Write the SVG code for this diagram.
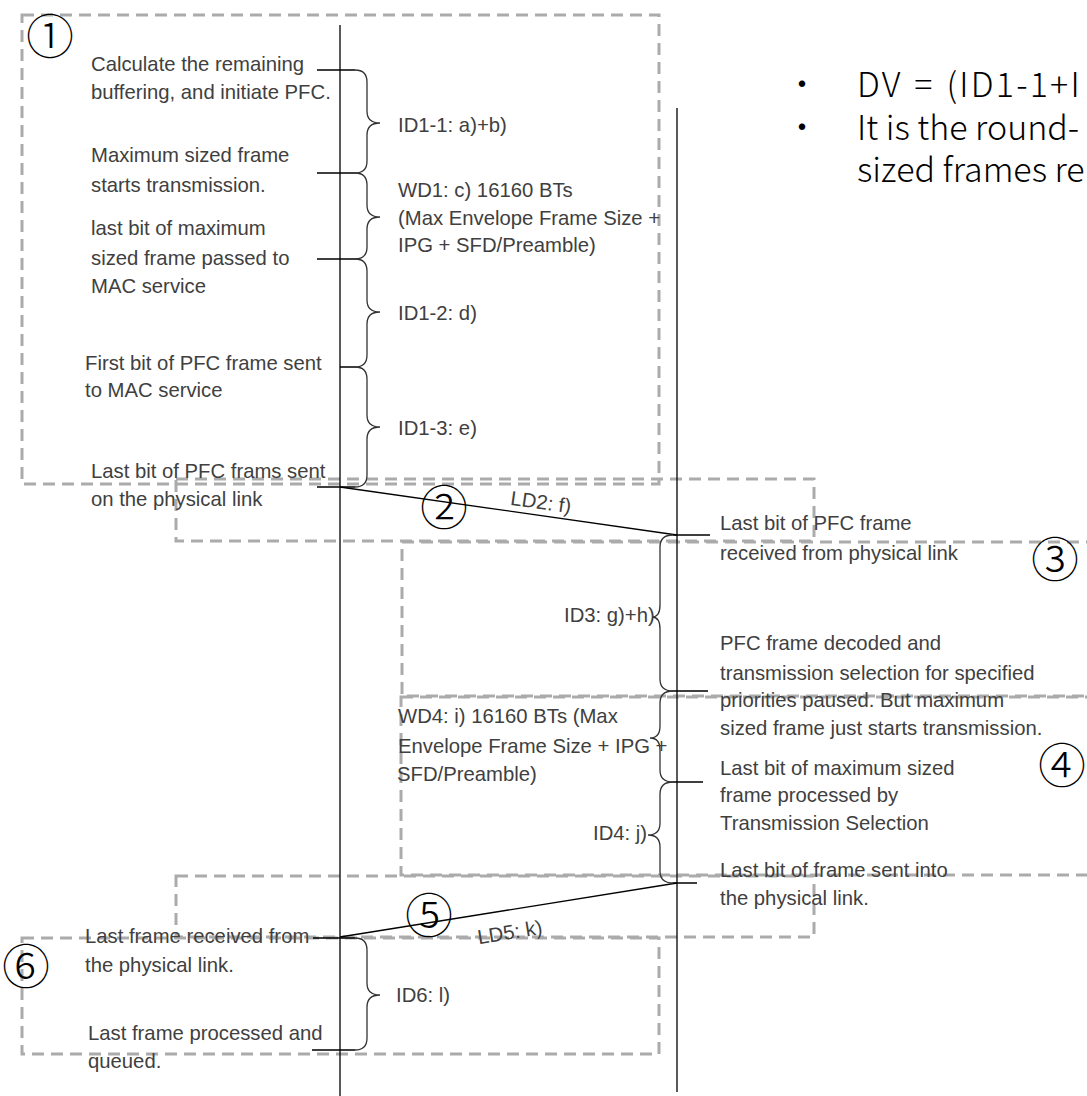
<svg xmlns="http://www.w3.org/2000/svg" width="1087" height="1096" viewBox="0 0 1087 1096">
<style>
.box{fill:none;stroke:#ababab;stroke-width:3;stroke-dasharray:12 7}
.t{font-family:"Liberation Sans",Arial,sans-serif;font-size:20.3px;fill:#404040}
.ln{stroke:#000;stroke-width:1.3;fill:none}
.br{stroke:#333;stroke-width:1.3;fill:none}
.num{font-family:"Noto Sans CJK JP","Noto Sans CJK SC",sans-serif;font-size:48px;font-weight:300;fill:#000}
.big{font-family:"Noto Sans CJK SC","Noto Sans",sans-serif;font-size:34px;font-weight:300;fill:#000}
</style>
<rect width="1087" height="1096" fill="#fff"/>
<g id="boxes">
<rect id="box1" class="box" x="22" y="15" width="637" height="469"/>
<rect id="box2" class="box" x="176" y="479" width="638" height="62"/>
<rect id="box3" class="box" x="402" y="542" width="720" height="154"/>
<rect id="box4" class="box" x="401" y="697" width="720" height="178"/>
<rect id="box5" class="box" x="176" y="876" width="638" height="61"/>
<rect id="box6" class="box" x="22" y="938" width="637" height="116"/>
</g>
<g id="connectors">
<line class="ln" x1="340" y1="25" x2="340" y2="1096"/>
<line class="ln" x1="677" y1="108" x2="677" y2="1092"/>
<path class="ln" d="M317 70H355M317 173H355M317 259H355M340 367H355M317 487H355M313 938H355M312 1050H355"/>
<path class="ln" d="M673 535H710M673 691H708M673 782H703M673 883H697"/>
<line class="ln" x1="340" y1="487" x2="677" y2="535"/>
<line class="ln" x1="677" y1="883" x2="340" y2="937"/>
<path class="br" d="M355 70Q367 70 367 82V111Q367 123 380 123Q367 123 367 135V161Q367 173 355 173"/>
<path class="br" d="M355 173Q367 173 367 185V205Q367 217 380 217Q367 217 367 229V247Q367 259 355 259"/>
<path class="br" d="M355 259Q367 259 367 271V300Q367 312 380 312Q367 312 367 324V355Q367 367 355 367"/>
<path class="br" d="M355 367Q367 367 367 379V415Q367 427 380 427Q367 427 367 439V475Q367 487 355 487"/>
<path class="br" d="M355 938Q367 938 367 950V983Q367 995 380 995Q367 995 367 1007V1038Q367 1050 355 1050"/>
<path class="br" d="M673 535Q660 535 660 547V605Q660 617 652 617Q660 617 660 629V679Q660 691 673 691"/>
<path class="br" d="M673 691Q660 691 660 703V726Q660 738 650 738Q660 738 660 750V770Q660 782 673 782"/>
<path class="br" d="M673 782Q660 782 660 794V823Q660 835 648 835Q660 835 660 847V871Q660 883 673 883"/>
</g>
<g id="n1">
<text class="num" x="50" y="33" text-anchor="middle" dominant-baseline="central">①</text>
<text class="t" x="91" y="71">Calculate the remaining</text>
<text class="t" x="91" y="99">buffering, and initiate PFC.</text>
<text class="t" x="91" y="162">Maximum sized frame</text>
<text class="t" x="91" y="192">starts transmission.</text>
<text class="t" x="91" y="235">last bit of maximum</text>
<text class="t" x="91" y="265">sized frame passed to</text>
<text class="t" x="91" y="293">MAC service</text>
<text class="t" x="85" y="370">First bit of PFC frame sent</text>
<text class="t" x="85" y="397">to MAC service</text>
<text class="t" x="91" y="478">Last bit of PFC frams sent</text>
<text class="t" x="91" y="506">on the physical link</text>
<text class="t" x="398" y="132">ID1-1: a)+b)</text>
<text class="t" x="398" y="197">WD1: c) 16160 BTs</text>
<text class="t" x="398" y="225">(Max Envelope Frame Size +</text>
<text class="t" x="398" y="252">IPG + SFD/Preamble)</text>
<text class="t" x="398" y="320">ID1-2: d)</text>
<text class="t" x="398" y="435">ID1-3: e)</text>
</g>
<g id="n2">
<text class="num" x="444" y="504" text-anchor="middle" dominant-baseline="central">②</text>
<text class="t" transform="translate(540 509) rotate(8.1)" text-anchor="middle">LD2: f)</text>
</g>
<g id="n3">
<text class="num" x="1055" y="556" text-anchor="middle" dominant-baseline="central">③</text>
<text class="t" x="720" y="530">Last bit of PFC frame</text>
<text class="t" x="720" y="560">received from physical link</text>
<text class="t" x="720" y="650">PFC frame decoded and</text>
<text class="t" x="720" y="680">transmission selection for specified</text>
<text class="t" x="720" y="707">priorities paused. But maximum</text>
<text class="t" x="564" y="622">ID3: g)+h)</text>
</g>
<g id="n4">
<text class="num" x="1062" y="762" text-anchor="middle" dominant-baseline="central">④</text>
<text class="t" x="720" y="735">sized frame just starts transmission.</text>
<text class="t" x="720" y="775">Last bit of maximum sized</text>
<text class="t" x="720" y="802">frame processed by</text>
<text class="t" x="720" y="830">Transmission Selection</text>
<text class="t" x="720" y="877">Last bit of frame sent into</text>
<text class="t" x="720" y="905">the physical link.</text>
<text class="t" x="398" y="723">WD4: i) 16160 BTs (Max</text>
<text class="t" x="398" y="753">Envelope Frame Size + IPG +</text>
<text class="t" x="397" y="781">SFD/Preamble)</text>
<text class="t" x="593" y="840">ID4: j)</text>
</g>
<g id="n5">
<text class="num" x="429" y="912" text-anchor="middle" dominant-baseline="central">⑤</text>
<text class="t" transform="translate(511 939) rotate(-9.1)" text-anchor="middle">LD5: k)</text>
</g>
<g id="n6">
<text class="num" x="26" y="963" text-anchor="middle" dominant-baseline="central">⑥</text>
<text class="t" x="85" y="943">Last frame received from</text>
<text class="t" x="85" y="972">the physical link.</text>
<text class="t" x="88" y="1040">Last frame processed and</text>
<text class="t" x="88" y="1068">queued.</text>
<text class="t" x="396" y="1002">ID6: l)</text>
</g>
<g id="notes">
<text class="big" x="802" y="97" text-anchor="middle">•</text>
<text class="big" x="857" y="97" letter-spacing="2.2" word-spacing="2">DV = (ID1-1+I</text>
<text class="big" x="802" y="140" text-anchor="middle">•</text>
<text class="big" x="857" y="140">It is the round-</text>
<text class="big" x="857" y="182">sized frames re</text>
</g>
</svg>
